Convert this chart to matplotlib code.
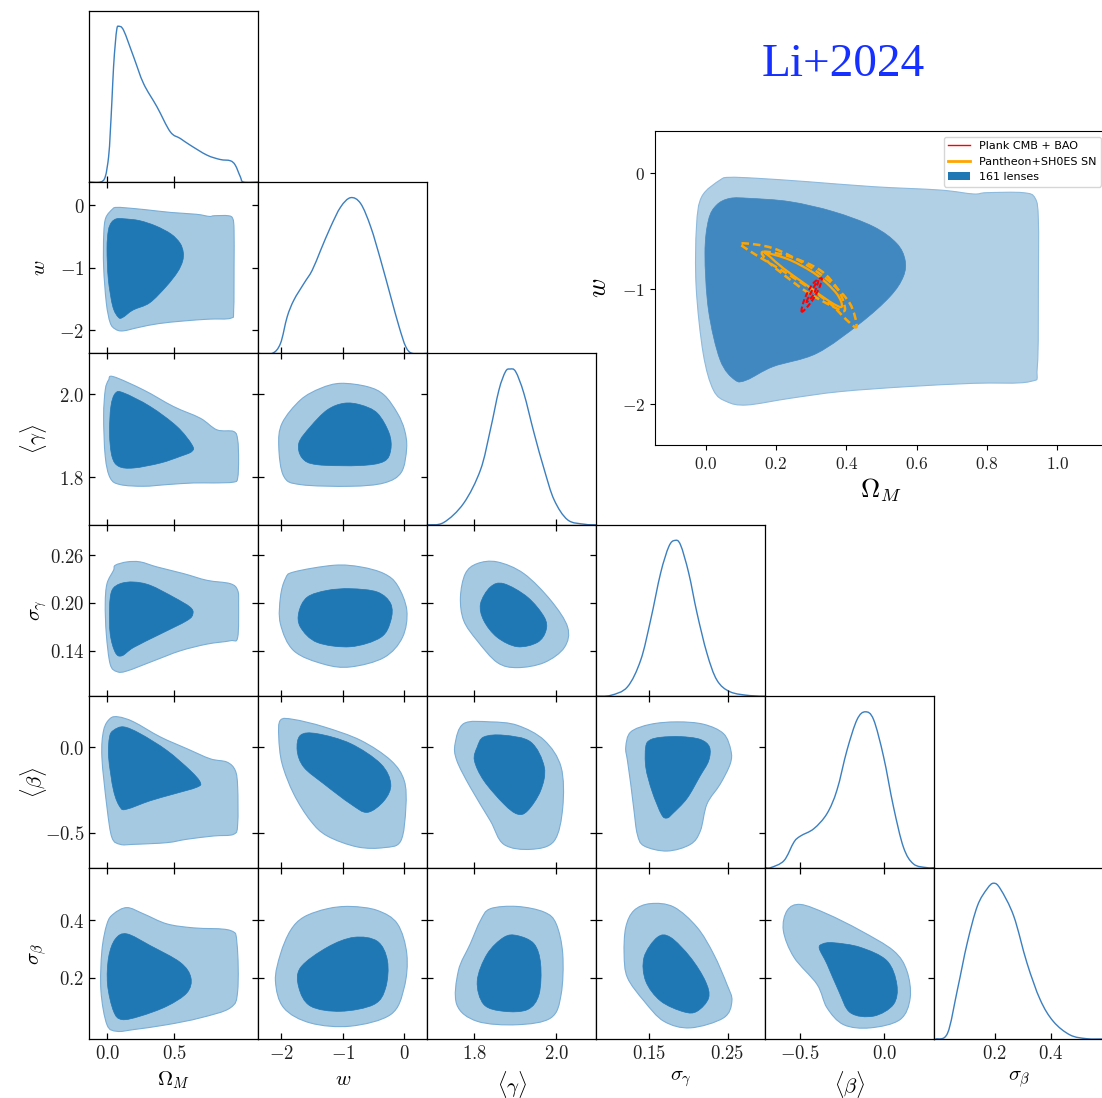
import numpy as np
import matplotlib
matplotlib.use('Agg')
import matplotlib.pyplot as plt
from matplotlib.path import Path
from matplotlib.patches import PathPatch, Patch
from matplotlib.lines import Line2D

plt.rcParams['mathtext.fontset'] = 'cm'

# ---- parameters -------------------------------------------------------
names = [r'$\Omega_M$', r'$w$', r'$\langle\gamma\rangle$', r'$\sigma_\gamma$',
         r'$\langle\beta\rangle$', r'$\sigma_\beta$']
lims = [(-0.134, 1.127), (-2.37, 0.37), (1.685, 2.098), (0.083, 0.298),
        (-0.705, 0.297), (-0.015, 0.585)]
xticks = [[0.0, 0.5], [-2, -1, 0], [1.8, 2.0], [0.15, 0.25], [-0.5, 0.0], [0.2, 0.4]]
xticklabels = [['0.0', '0.5'], ['-2', '-1', '0'], ['1.8', '2.0'], ['0.15', '0.25'],
               ['-0.5', '0.0'], ['0.2', '0.4']]
yticks = [None, [-2, -1, 0], [1.8, 2.0], [0.14, 0.20, 0.26], [-0.5, 0.0], [0.2, 0.4]]
yticklabels = [None, ['-2', '-1', '0'], ['1.8', '2.0'], ['0.14', '0.20', '0.26'],
               ['-0.5', '0.0'], ['0.2', '0.4']]

# ---- 1D marginals (peak normalised to 1) -------------------------------
om_x = [-0.134, -0.052, -0.015, 0.010, 0.022, 0.035, 0.047, 0.060, 0.072, 0.085, 0.122,
        0.197, 0.271, 0.371, 0.470, 0.545, 0.619, 0.744, 0.843, 0.918, 0.955, 0.993, 1.017, 1.127]
om_p = [0, 0, 0.034, 0.162, 0.312, 0.526, 0.739, 0.889, 0.985, 1.0, 0.974,
        0.803, 0.632, 0.483, 0.323, 0.280, 0.237, 0.173, 0.145, 0.137, 0.109, 0.034, 0, 0]
w_x = [-2.37, -2.146, -2.011, -1.902, -1.794, -1.631, -1.496, -1.360, -1.198, -1.035, -0.873,
       -0.710, -0.547, -0.385, -0.222, -0.087, 0.022, 0.130, 0.37]
w_p = [0, 0, 0.064, 0.235, 0.342, 0.449, 0.534, 0.662, 0.812, 0.940, 1.0,
       0.962, 0.812, 0.598, 0.363, 0.171, 0.043, 0, 0]
g_x = [1.685, 1.725, 1.774, 1.815, 1.839, 1.860, 1.876, 1.887, 1.901, 1.921, 1.946, 1.971,
       1.995, 2.028, 2.069, 2.098]
g_p = [0, 0.015, 0.139, 0.353, 0.609, 0.865, 0.983, 1.0, 0.983, 0.844, 0.588, 0.353,
       0.160, 0.032, 0.004, 0]
sg_x = [0.083, 0.1015, 0.1226, 0.1395, 0.1521, 0.1648, 0.1753, 0.1829, 0.1901, 0.2006,
        0.2112, 0.2238, 0.2365, 0.2534, 0.2787, 0.298]
sg_p = [0, 0.006, 0.060, 0.232, 0.489, 0.790, 0.961, 1.0, 0.972, 0.790,
        0.532, 0.275, 0.103, 0.028, 0.004, 0]
b_x = [-0.705, -0.673, -0.594, -0.535, -0.496, -0.417, -0.339, -0.280, -0.220, -0.161, -0.112,
       -0.063, -0.004, 0.055, 0.114, 0.173, 0.252, 0.297]
b_p = [0, 0, 0.045, 0.164, 0.203, 0.250, 0.347, 0.498, 0.756, 0.950, 1.0,
       0.950, 0.713, 0.390, 0.131, 0.024, 0, 0]
sb_x = [-0.015, -0.009, 0.032, 0.067, 0.102, 0.138, 0.173, 0.196, 0.220, 0.267, 0.314, 0.361,
        0.408, 0.467, 0.526, 0.585]
sb_p = [0, 0, 0.037, 0.316, 0.617, 0.854, 0.965, 1.0, 0.962, 0.789, 0.488, 0.252,
        0.112, 0.026, 0.002, 0]

# ---- 2D credible regions (outer 95%, inner 68%) -------------------------
om_w_out = [(0.041, -0.058), (0.069, -0.035), (0.145, -0.043), (0.287, -0.072), (0.477, -0.116),
            (0.666, -0.145), (0.761, -0.179), (0.799, -0.168), (0.903, -0.168), (0.937, -0.217),
            (0.946, -0.405), (0.946, -0.983), (0.943, -1.676), (0.922, -1.806), (0.761, -1.821),
            (0.572, -1.850), (0.382, -1.893), (0.240, -1.951), (0.117, -2.009), (0.060, -1.980),
            (0.022, -1.879), (-0.007, -1.561), (-0.027, -0.983), (-0.026, -0.462), (-0.011, -0.202)]
om_w_in = [(0.069, -0.217), (0.126, -0.217), (0.240, -0.246), (0.363, -0.332), (0.477, -0.462),
           (0.543, -0.607), (0.567, -0.751), (0.562, -0.896), (0.524, -1.069), (0.439, -1.301),
           (0.316, -1.561), (0.192, -1.676), (0.117, -1.792), (0.083, -1.792), (0.041, -1.618),
           (0.008, -1.185), (-0.002, -0.694), (0.008, -0.405), (0.031, -0.275)]
om_g_out = [(0.047, 2.042), (0.271, 2.010), (0.495, 1.970), (0.694, 1.942), (0.818, 1.914),
            (0.943, 1.910), (0.973, 1.890), (0.980, 1.842), (0.973, 1.798), (0.943, 1.788),
            (0.794, 1.786), (0.644, 1.786), (0.445, 1.782), (0.271, 1.778), (0.097, 1.782),
            (0.022, 1.798), (-0.015, 1.850), (-0.027, 1.946), (-0.015, 2.010), (0.010, 2.034)]
om_g_in = [(0.060, 2.002), (0.122, 2.003), (0.321, 1.970), (0.520, 1.922), (0.632, 1.878),
           (0.632, 1.862), (0.545, 1.850), (0.396, 1.834), (0.197, 1.822), (0.085, 1.826),
           (0.035, 1.850), (0.017, 1.906), (0.027, 1.970)]
om_sg_out = [(0.060, 0.2473), (0.147, 0.2515), (0.246, 0.2515), (0.371, 0.2452), (0.570, 0.2368),
             (0.744, 0.2284), (0.918, 0.2242), (0.973, 0.2158), (0.980, 0.1989), (0.973, 0.1568),
             (0.918, 0.1526), (0.744, 0.1484), (0.545, 0.1400), (0.346, 0.1274), (0.147, 0.1147),
             (0.072, 0.1139), (0.022, 0.1232), (-0.007, 0.1610), (-0.015, 0.1989),
             (-0.002, 0.2242), (0.047, 0.2410)]
om_sg_in = [(0.097, 0.2242), (0.197, 0.2263), (0.321, 0.2221), (0.495, 0.2073), (0.619, 0.1947),
            (0.639, 0.1863), (0.595, 0.1779), (0.396, 0.1610), (0.197, 0.1442), (0.109, 0.1337),
            (0.060, 0.1379), (0.022, 0.1610), (0.017, 0.1947), (0.035, 0.2158)]
om_b_out = [(0.022, 0.167), (0.085, 0.176), (0.197, 0.147), (0.396, 0.059), (0.595, -0.010),
            (0.769, -0.069), (0.893, -0.088), (0.955, -0.137), (0.973, -0.235), (0.973, -0.451),
            (0.943, -0.510), (0.794, -0.520), (0.595, -0.539), (0.445, -0.559), (0.197, -0.569),
            (0.097, -0.569), (0.035, -0.529), (-0.002, -0.353), (-0.040, -0.059), (-0.027, 0.098)]
om_b_in = [(0.047, 0.098), (0.122, 0.118), (0.246, 0.078), (0.445, -0.020), (0.619, -0.137),
           (0.694, -0.206), (0.669, -0.235), (0.495, -0.275), (0.321, -0.314), (0.147, -0.363),
           (0.097, -0.353), (0.047, -0.255), (0.010, -0.059), (0.017, 0.059)]
om_sb_out = [(0.047, 0.423), (0.147, 0.445), (0.271, 0.423), (0.445, 0.388), (0.644, 0.374),
             (0.918, 0.365), (0.968, 0.318), (0.973, 0.153), (0.918, 0.094), (0.694, 0.059),
             (0.445, 0.035), (0.197, 0.018), (0.072, 0.012), (-0.002, 0.035), (-0.047, 0.153),
             (-0.040, 0.294), (-0.002, 0.388)]
om_sb_in = [(0.060, 0.335), (0.147, 0.353), (0.321, 0.312), (0.545, 0.253), (0.624, 0.200),
            (0.595, 0.147), (0.445, 0.100), (0.246, 0.065), (0.109, 0.053), (0.047, 0.082),
            (0.002, 0.176), (0.010, 0.271)]
w_g_out = [(-1.035, 2.026), (-0.602, 2.018), (-0.331, 1.998), (-0.114, 1.954), (0.000, 1.914),
           (0.035, 1.870), (-0.050, 1.812), (-0.331, 1.786), (-0.873, 1.778), (-1.686, 1.782),
           (-1.957, 1.802), (-2.038, 1.874), (-1.984, 1.930), (-1.686, 1.986), (-1.360, 2.014)]
w_g_in = [(-0.981, 1.978), (-0.710, 1.974), (-0.439, 1.954), (-0.249, 1.906), (-0.222, 1.866),
          (-0.331, 1.838), (-0.710, 1.828), (-1.415, 1.830), (-1.659, 1.846), (-1.713, 1.882),
          (-1.523, 1.922), (-1.252, 1.962)]
w_sg_out = [(-1.794, 0.2389), (-1.144, 0.2473), (-0.710, 0.2452), (-0.331, 0.2368),
            (-0.114, 0.2221), (0.038, 0.1905), (-0.033, 0.1568), (-0.331, 0.1316),
            (-0.873, 0.1198), (-1.306, 0.1232), (-1.794, 0.1400), (-2.011, 0.1737),
            (-2.011, 0.2073), (-1.930, 0.2305)]
w_sg_in = [(-1.577, 0.2073), (-1.252, 0.2158), (-0.873, 0.2179), (-0.439, 0.2137),
           (-0.222, 0.1989), (-0.222, 0.1779), (-0.385, 0.1568), (-0.873, 0.1451),
           (-1.415, 0.1505), (-1.686, 0.1695), (-1.713, 0.1884)]
w_b_out = [(-2.011, 0.157), (-1.794, 0.161), (-1.306, 0.118), (-0.710, 0.039), (-0.222, -0.078),
           (-0.005, -0.196), (0.022, -0.353), (-0.060, -0.549), (-0.331, -0.588), (-0.764, -0.584),
           (-1.252, -0.520), (-1.523, -0.431), (-1.794, -0.275), (-1.984, -0.098), (-2.038, 0.059)]
w_b_in = [(-1.686, 0.069), (-1.415, 0.078), (-0.873, 0.020), (-0.385, -0.098), (-0.222, -0.216),
          (-0.331, -0.314), (-0.602, -0.382), (-0.873, -0.333), (-1.306, -0.216),
          (-1.632, -0.118), (-1.740, -0.020)]
w_sb_out = [(-1.631, 0.412), (-1.252, 0.441), (-0.873, 0.449), (-0.439, 0.435), (-0.114, 0.388),
            (0.038, 0.282), (-0.005, 0.165), (-0.222, 0.071), (-0.873, 0.030), (-1.523, 0.041),
            (-1.957, 0.094), (-2.092, 0.188), (-2.011, 0.282), (-1.848, 0.365)]
w_sb_in = [(-1.686, 0.235), (-1.252, 0.306), (-0.818, 0.341), (-0.439, 0.327), (-0.276, 0.259),
           (-0.304, 0.165), (-0.493, 0.106), (-1.035, 0.082), (-1.523, 0.100), (-1.713, 0.165)]
g_sg_out = [(1.807, 0.2494), (1.856, 0.2515), (1.921, 0.2368), (1.987, 0.2031), (2.028, 0.1695),
            (2.020, 0.1442), (1.971, 0.1253), (1.905, 0.1189), (1.856, 0.1253), (1.807, 0.1526),
            (1.774, 0.1779), (1.766, 0.2073), (1.778, 0.2368)]
g_sg_in = [(1.839, 0.2200), (1.872, 0.2242), (1.930, 0.2073), (1.971, 0.1821), (1.975, 0.1653),
           (1.954, 0.1505), (1.905, 0.1451), (1.856, 0.1568), (1.823, 0.1779), (1.815, 0.1989)]
g_b_out = [(1.774, 0.137), (1.839, 0.147), (1.905, 0.127), (1.971, 0.039), (2.012, -0.118),
           (2.016, -0.353), (1.995, -0.549), (1.938, -0.598), (1.872, -0.569), (1.839, -0.431),
           (1.790, -0.235), (1.757, -0.078), (1.753, 0.020)]
g_b_in = [(1.823, 0.059), (1.872, 0.069), (1.938, 0.029), (1.971, -0.118), (1.962, -0.255),
          (1.930, -0.373), (1.905, -0.392), (1.872, -0.333), (1.823, -0.196), (1.800, -0.078),
          (1.807, 0.0)]
g_sb_out = [(1.839, 0.441), (1.905, 0.449), (1.971, 0.429), (2.000, 0.388), (2.016, 0.282),
            (2.012, 0.141), (1.987, 0.059), (1.905, 0.035), (1.807, 0.047), (1.757, 0.106),
            (1.761, 0.224), (1.790, 0.318), (1.815, 0.400)]
g_sb_in = [(1.872, 0.341), (1.905, 0.347), (1.946, 0.318), (1.962, 0.247), (1.958, 0.141),
           (1.930, 0.088), (1.872, 0.082), (1.823, 0.106), (1.807, 0.188), (1.831, 0.282)]
sg_b_out = [(0.1205, 0.000), (0.1268, 0.088), (0.1521, 0.133), (0.1859, 0.147), (0.2196, 0.133),
            (0.2449, 0.078), (0.2542, -0.020), (0.2534, -0.098), (0.2407, -0.216),
            (0.2238, -0.333), (0.2154, -0.490), (0.2027, -0.569), (0.1732, -0.608),
            (0.1437, -0.578), (0.1352, -0.510), (0.1310, -0.373), (0.1268, -0.216),
            (0.1226, -0.078)]
sg_b_in = [(0.1458, 0.000), (0.1510, 0.040), (0.1650, 0.057), (0.1900, 0.061), (0.2150, 0.045),
           (0.2270, 0.000), (0.2260, -0.080), (0.2150, -0.170), (0.1985, -0.300),
           (0.1800, -0.390), (0.1730, -0.415), (0.1660, -0.395), (0.1540, -0.260),
           (0.1460, -0.120)]
sg_sb_out = [(0.131, 0.435), (0.1521, 0.459), (0.1816, 0.447), (0.2112, 0.376), (0.2323, 0.282),
             (0.2492, 0.176), (0.2555, 0.118), (0.2449, 0.059), (0.2027, 0.024), (0.1690, 0.047),
             (0.1437, 0.118), (0.1226, 0.200), (0.1184, 0.282), (0.1205, 0.376)]
sg_sb_in = [(0.1606, 0.341), (0.1774, 0.341), (0.2027, 0.271), (0.2217, 0.188), (0.2259, 0.129),
            (0.2112, 0.082), (0.1943, 0.080), (0.1648, 0.118), (0.1458, 0.188), (0.1437, 0.271)]
b_sb_out = [(-0.575, 0.435), (-0.496, 0.456), (-0.339, 0.423), (-0.142, 0.365), (0.055, 0.294),
            (0.134, 0.224), (0.154, 0.129), (0.094, 0.053), (-0.083, 0.024), (-0.240, 0.035),
            (-0.339, 0.094), (-0.398, 0.176), (-0.535, 0.271), (-0.598, 0.365)]
b_sb_in = [(-0.385, 0.302), (-0.365, 0.318), (-0.300, 0.322), (-0.142, 0.306), (0.016, 0.259),
           (0.075, 0.176), (0.055, 0.106), (-0.063, 0.065), (-0.201, 0.077), (-0.270, 0.153),
           (-0.339, 0.247)]

# ---- external constraints in the (Omega_M, w) inset --------------------
sn_1sig = [(0.171, -0.689), (0.240, -0.752), (0.316, -0.882), (0.372, -1.041), (0.387, -1.157),
           (0.353, -1.113), (0.287, -0.969), (0.221, -0.824), (0.183, -0.723)]
sn_mid = [(0.164, -0.680), (0.240, -0.723), (0.325, -0.839), (0.377, -1.012), (0.396, -1.186),
          (0.363, -1.157), (0.287, -1.027), (0.211, -0.853), (0.173, -0.752)]
sn_2sig = [(0.102, -0.607), (0.192, -0.650), (0.287, -0.795), (0.353, -0.940), (0.410, -1.128),
           (0.429, -1.330), (0.401, -1.272), (0.353, -1.128), (0.268, -0.940), (0.183, -0.781),
           (0.121, -0.665)]
cmb_out = [(0.273, -1.200), (0.282, -1.084), (0.306, -0.954), (0.330, -0.911), (0.320, -1.012),
           (0.297, -1.128)]
cmb_in = [(0.287, -1.113), (0.311, -0.969), (0.320, -0.940), (0.306, -1.055)]

regions = {
    (1, 0): (om_w_out, om_w_in), (2, 0): (om_g_out, om_g_in), (3, 0): (om_sg_out, om_sg_in),
    (4, 0): (om_b_out, om_b_in), (5, 0): (om_sb_out, om_sb_in),
    (2, 1): (w_g_out, w_g_in), (3, 1): (w_sg_out, w_sg_in), (4, 1): (w_b_out, w_b_in),
    (5, 1): (w_sb_out, w_sb_in),
    (3, 2): (g_sg_out, g_sg_in), (4, 2): (g_b_out, g_b_in), (5, 2): (g_sb_out, g_sb_in),
    (4, 3): (sg_b_out, sg_b_in), (5, 3): (sg_sb_out, sg_sb_in),
    (5, 4): (b_sb_out, b_sb_in),
}
marginals = [(om_x, om_p), (w_x, w_p), (g_x, g_p), (sg_x, sg_p), (b_x, b_p), (sb_x, sb_p)]


def smooth_path(pts, closed=True):
    # Catmull-Rom through the read points, drawn as cubic Bezier segments
    pts = np.asarray(pts, dtype=float)
    n = len(pts)
    if closed:
        get = lambda k: pts[k % n]
        nseg = n
    else:
        get = lambda k: pts[min(max(k, 0), n - 1)]
        nseg = n - 1
    verts = [pts[0]]
    codes = [Path.MOVETO]
    for k in range(nseg):
        p0, p1, p2, p3 = get(k - 1), get(k), get(k + 1), get(k + 2)
        verts += [p1 + (p2 - p0) / 6, p2 - (p3 - p1) / 6, p2]
        codes += [Path.CURVE4] * 3
    if closed:
        verts.append(pts[0])
        codes.append(Path.CLOSEPOLY)
    return Path(verts, codes)


def math(labels):
    return ['$' + s + '$' for s in labels]


W, H = 1102, 1098
fig = plt.figure(figsize=(W / 100, H / 100), dpi=100)


def px_rect(x0, y0, x1, y1):
    return [x0 / W, 1 - y1 / H, (x1 - x0) / W, (y1 - y0) / H]


left, top = 89.3, 10.7
pw, ph = 169.0, (1039.0 - 10.7) / 6

light = '#a6c9e2'
dark = '#1f77b4'

for i in range(6):
    for j in range(i + 1):
        x0 = left + j * pw
        y0 = top + i * ph
        ax = fig.add_axes(px_rect(x0, y0, x0 + pw, y0 + ph))
        ax.set_xlim(lims[j])
        for s in ax.spines.values():
            s.set_linewidth(0.9)
        if i == j:
            xs, ps = marginals[i]
            ax.add_patch(PathPatch(smooth_path(list(zip(xs, ps)), closed=False),
                                   fill=False, edgecolor='#3b7fbf', lw=1.0))
            ax.set_ylim(0, 1.1)
            ax.set_yticks([])
            ax.tick_params(axis='x', direction='in', top=False, bottom=True,
                           length=4.5, width=0.9, labelsize=13.5, labelcolor='#222222')
        else:
            outer, inner = regions[(i, j)]
            ax.add_patch(PathPatch(smooth_path(outer), facecolor=light,
                                   edgecolor='#7aaed6', lw=0.8))
            ax.add_patch(PathPatch(smooth_path(inner), facecolor=dark,
                                   edgecolor=dark, lw=0.5))
            ax.set_ylim(lims[i])
            ax.set_yticks(yticks[i], math(yticklabels[i]) if j == 0 else [])
            ax.tick_params(direction='in', top=True, right=True, length=4.5, width=0.9,
                           labelsize=13.5, labelcolor='#222222')
            if j == 0:
                ax.set_ylabel(names[i], fontsize=15)
                ax.yaxis.set_label_coords(-0.24, 0.5)
        ax.set_xticks(xticks[j], math(xticklabels[j]) if i == 5 else [])
        if i == 5:
            ax.set_xlabel(names[j], fontsize=15)
            ax.xaxis.set_label_coords(0.5, -0.175)

# ---- inset: Omega_M vs w with external probes --------------------------
ax = fig.add_axes(px_rect(655, 131, 1106.6, 445))
ax.set_xlim(-0.144, 1.14)
ax.set_ylim(-2.356, 0.367)
ax.add_patch(PathPatch(smooth_path(om_w_out), facecolor='#b2d0e5', edgecolor='#8dbadd', lw=0.8))
ax.add_patch(PathPatch(smooth_path(om_w_in), facecolor='#4288c0', edgecolor='#4288c0', lw=0.5))
ax.add_patch(PathPatch(smooth_path(sn_1sig), fill=False, edgecolor='orange', lw=1.6))
for c in (sn_mid, sn_2sig):
    ax.add_patch(PathPatch(smooth_path(c), fill=False, edgecolor='orange', lw=1.8,
                           linestyle=(0, (3, 1.6))))
for c in (cmb_out, cmb_in):
    ax.add_patch(PathPatch(smooth_path(c), fill=False, edgecolor='red', lw=1.5,
                           linestyle=(0, (2.5, 1.2))))
ax.set_xticks([0.0, 0.2, 0.4, 0.6, 0.8, 1.0],
              math(['0.0', '0.2', '0.4', '0.6', '0.8', '1.0']))
ax.set_yticks([0, -1, -2], math(['0', '-1', '-2']))
ax.tick_params(labelsize=12.5, labelcolor='#222222')
ax.set_xlabel(r'$\Omega_M$', fontsize=19)
ax.set_ylabel(r'$w$', fontsize=19)
ax.xaxis.set_label_coords(0.5, -0.1)
ax.yaxis.set_label_coords(-0.095, 0.5)
handles = [Line2D([], [], color='red', lw=1.0),
           Line2D([], [], color='orange', lw=2.0),
           Patch(facecolor=dark)]
ax.legend(handles, ['Plank CMB + BAO', 'Pantheon+SH0ES SN', '161 lenses'],
          loc='upper right', fontsize=8)

fig.text(843 / W, 1 - 65 / H, 'Li+2024', ha='center', va='center', fontsize=34,
         color='#1530ff', family='Liberation Serif')

fig.savefig('out.png', dpi=100)
